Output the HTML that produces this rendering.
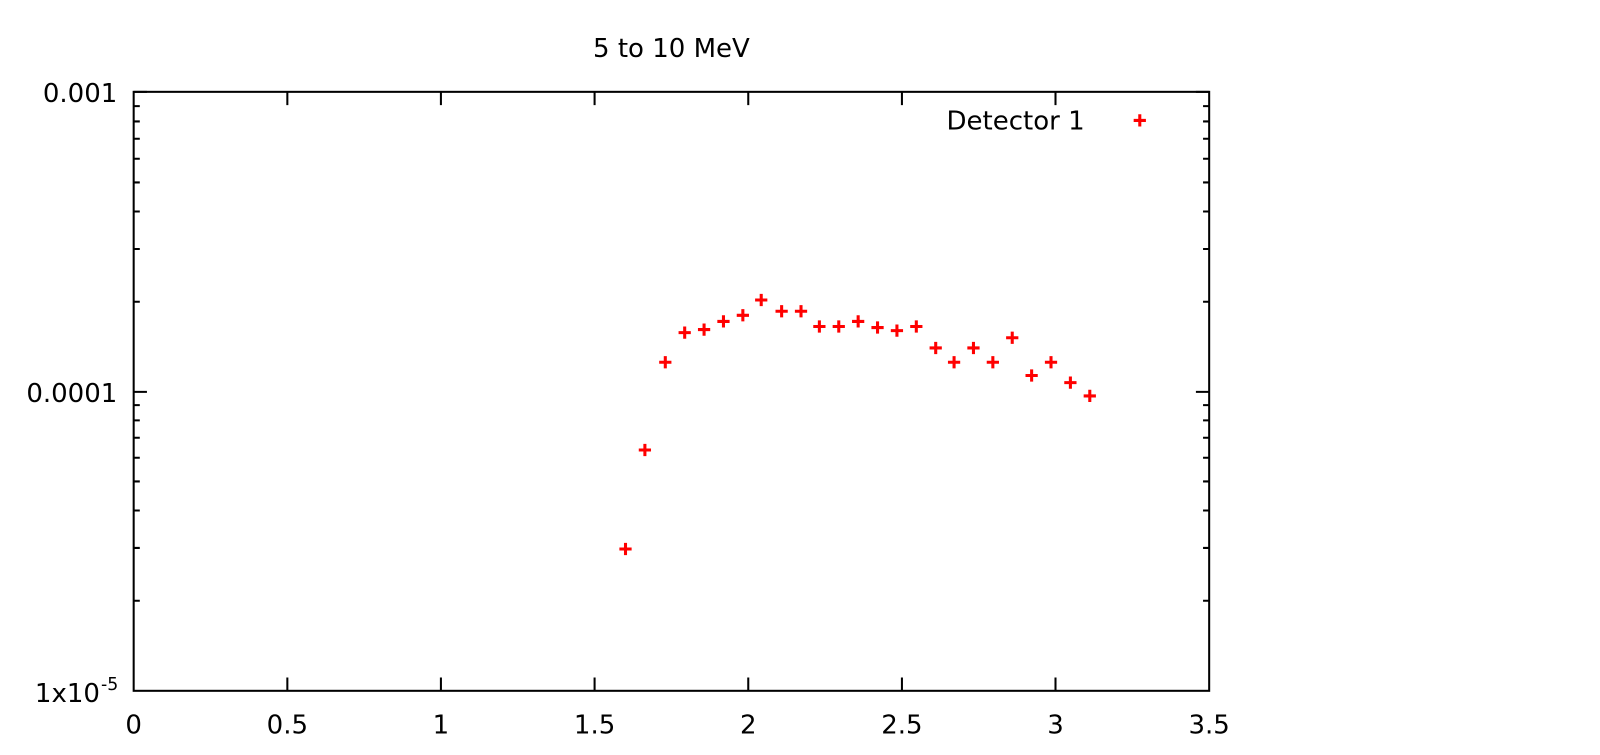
<!DOCTYPE html>
<html><head><meta charset="utf-8"><style>html,body{margin:0;padding:0;background:#fff;overflow:hidden;width:1600px;height:755px}svg{display:block;position:absolute;left:0;top:0}text{font-family:"DejaVu Sans","Liberation Sans",sans-serif;font-size:25.5px;fill:#000}</style></head>
<body>
<svg width="1600" height="755">
<g transform="scale(1.0204)">
<text x="658" y="56" text-anchor="middle">5 to 10 MeV</text>
<g stroke="#000" stroke-width="2" fill="none">
<rect x="131" y="90" width="1054" height="587"/>
<path d="M131 384h13M131 90h13M1185 384h-13M1185 90h-13"/>
<path d="M131 295.7h6M131 244h6M131 207.3h6M131 178.8h6M131 155.6h6M131 136h6M131 119h6M131 104h6M131 588.7h6M131 537h6M131 500.3h6M131 471.8h6M131 448.6h6M131 429h6M131 412h6M131 397h6"/>
<path d="M1185 295.7h-6M1185 244h-6M1185 207.3h-6M1185 178.8h-6M1185 155.6h-6M1185 136h-6M1185 119h-6M1185 104h-6M1185 588.7h-6M1185 537h-6M1185 500.3h-6M1185 471.8h-6M1185 448.6h-6M1185 429h-6M1185 412h-6M1185 397h-6"/>
<path d="M281.6 677v-13M432.1 677v-13M582.7 677v-13M733.3 677v-13M883.9 677v-13M1034.4 677v-13M281.6 90v13M432.1 90v13M582.7 90v13M733.3 90v13M883.9 90v13M1034.4 90v13"/>
</g>
<g text-anchor="end">
<text x="115" y="100">0.001</text>
<text x="115" y="394">0.0001</text>
<text x="98" y="688">1x10</text><text x="99" y="676" text-anchor="start" style="font-size:17px">-5</text>
</g>
<g text-anchor="middle">
<text x="131" y="719">0</text><text x="281.6" y="719">0.5</text><text x="432.1" y="719">1</text><text x="582.7" y="719">1.5</text><text x="733.3" y="719">2</text><text x="883.9" y="719">2.5</text><text x="1034.4" y="719">3</text><text x="1185" y="719">3.5</text>
</g>
<text x="1063" y="127" text-anchor="end">Detector 1</text>
<g stroke="#f00" stroke-width="3" fill="none">
<path d="M1111 118h12M1117 112v12"/>
<path d="M607 538h12M613 532v12 M626 441h12M632 435v12 M646 355h12M652 349v12 M665 326h12M671 320v12 M684 323h12M690 317v12 M703 315h12M709 309v12 M722 309h12M728 303v12 M740 294h12M746 288v12 M760 305h12M766 299v12 M779 305h12M785 299v12 M797 320h12M803 314v12 M816 320h12M822 314v12 M835 315h12M841 309v12 M854 321h12M860 315v12 M873 324h12M879 318v12 M892 320h12M898 314v12 M911 341h12M917 335v12 M929 355h12M935 349v12 M948 341h12M954 335v12 M967 355h12M973 349v12 M986 331h12M992 325v12 M1005 368h12M1011 362v12 M1024 355h12M1030 349v12 M1043 375h12M1049 369v12 M1062 388h12M1068 382v12"/>
</g>
</g>
</svg>
</body></html>
